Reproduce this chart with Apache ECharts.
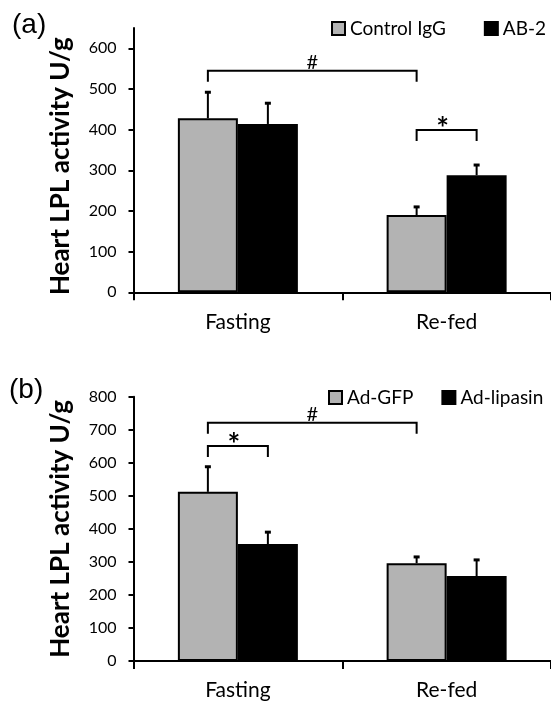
<!DOCTYPE html>
<html>
<head>
<meta charset="utf-8">
<script src="https://cdn.jsdelivr.net/npm/echarts@6/dist/echarts.min.js"></script>
<style>
html,body{margin:0;padding:0;background:#fff;}
#chart{width:551px;height:704px;}
</style>
</head>
<body>
<div id="chart"></div>
<script>
// ---- data ----
const categories = ['Fasting', 'Re-fed'];
// panel (a)
const controlIgG = [428, 190];
const controlIgGErr = [64, 20];
const ab2 = [414, 288];
const ab2Err = [51, 25];
const yTicksA = [0, 100, 200, 300, 400, 500, 600];
// brackets (a): [fromCategory, fromBar, toCategory, toBar, yValue]
const bracketsA = [[0, 0, 1, 0, 545], [1, 0, 1, 1, 399]];
const bracketMarksA = ['#', '*'];
// panel (b)
const adGFP = [512, 296];
const adGFPErr = [76, 19];
const adLipasin = [354, 257];
const adLipasinErr = [36, 49];
const yTicksB = [0, 100, 200, 300, 400, 500, 600, 700, 800];
const bracketsB = [[0, 0, 1, 0, 721], [0, 0, 0, 1, 651]];
const bracketMarksB = ['#', '*'];

// ---- style ----
const BAR_W = 60;
const GRAY = '#b3b3b3';
const FONT = 'Lato';

function errData(vals, errs, bar) {
  return categories.map((c, i) => [i, vals[i], errs[i], bar]);
}

function errRender(params, api) {
  const cat = api.value(0), val = api.value(1), err = api.value(2), bar = api.value(3);
  const base = api.coord([cat, val]);
  const top = api.coord([cat, val + err]);
  const x = base[0] + (bar - 0.5) * BAR_W;
  return {
    type: 'group',
    children: [
      {type: 'line', shape: {x1: x, y1: base[1], x2: x, y2: top[1]}, style: {stroke: '#000', lineWidth: 2}},
      {type: 'line', shape: {x1: x - 3, y1: top[1], x2: x + 3, y2: top[1]}, style: {stroke: '#000', lineWidth: 3}}
    ]
  };
}

function bracketRender(marks) {
  return function (params, api) {
    const fc = api.value(0), fb = api.value(1), tc = api.value(2), tb = api.value(3), y = api.value(4);
    const p1 = api.coord([fc, y]);
    const p2 = api.coord([tc, y]);
    const x1 = p1[0] + (fb - 0.5) * BAR_W;
    const x2 = p2[0] + (tb - 0.5) * BAR_W;
    const yp = p1[1];
    const drop = 11;
    const mark = marks[params.dataIndex];
    const star = mark === '*';
    return {
      type: 'group',
      children: [
        {type: 'polyline', shape: {points: [[x1, yp + drop], [x1, yp], [x2, yp], [x2, yp + drop]]},
         style: {stroke: '#000', lineWidth: 2, fill: null}},
        {type: 'text', x: (x1 + x2) / 2 - (star ? 4 : 0), y: star ? yp + 14 : yp + 2,
         style: {text: mark, fill: '#000', align: 'center', verticalAlign: 'bottom',
                 font: star ? 'bold 30px Lato' : '20px Lato'}}
      ]
    };
  };
}

function xAxisCfg(gi) {
  return {
    type: 'category', gridIndex: gi, data: categories,
    axisLine: {lineStyle: {color: '#000', width: 2}},
    axisTick: {show: true, length: 8, lineStyle: {color: '#000', width: 2}},
    axisLabel: {color: '#000', fontFamily: FONT, fontSize: 21, margin: 19}
  };
}
function yAxisCfg(gi, max, ticks) {
  return {
    type: 'value', gridIndex: gi, min: 0, max: max, interval: 100,
    axisLine: {show: true, lineStyle: {color: '#000', width: 2}},
    axisTick: {show: true, length: 5, lineStyle: {color: '#000', width: 2}, customValues: ticks},
    axisLabel: {color: '#000', fontFamily: FONT, fontSize: 16, margin: 17, customValues: ticks},
    splitLine: {show: false},
    name: 'Heart LPL activity U/g', nameLocation: 'middle', nameRotate: 90, nameGap: 60,
    nameTextStyle: {color: '#000', fontFamily: FONT, fontWeight: 'bold', fontSize: 26,
                    padding: gi === 0 ? [0, 12, 0, 0] : 0}
  };
}
function barSeries(name, data, color, ai) {
  return {
    type: 'bar', name: name, xAxisIndex: ai, yAxisIndex: ai, data: data,
    barWidth: BAR_W, barGap: '0%',
    itemStyle: {color: color, borderColor: '#000', borderWidth: 2},
    emphasis: {disabled: true}
  };
}
function errSeries(data, ai) {
  return {type: 'custom', xAxisIndex: ai, yAxisIndex: ai, data: data, renderItem: errRender,
          encode: {x: 0, y: 1}, z: 3, clip: false, silent: true};
}
function bracketSeries(data, marks, ai) {
  return {type: 'custom', xAxisIndex: ai, yAxisIndex: ai, data: data, renderItem: bracketRender(marks),
          encode: {x: 0, y: 4}, z: 4, clip: false, silent: true};
}
function legendCfg(names, left, top, gap) {
  return {
    data: names, left: left, top: top, width: 260, orient: 'horizontal', padding: 0, itemGap: gap,
    itemWidth: 13, itemHeight: 13, icon: 'rect',
    textStyle: {color: '#000', fontFamily: FONT, fontSize: 19}
  };
}

const chart = echarts.init(document.getElementById('chart'), null, {renderer: 'canvas'});
chart.setOption({
  animation: false,
  backgroundColor: '#fff',
  graphic: [
    {type: 'text', left: 12, top: 11, style: {text: '(a)', font: '28px "Liberation Sans"', fill: '#000'}},
    {type: 'text', left: 9, top: 376, style: {text: '(b)', font: '28px "Liberation Sans"', fill: '#000'}}
  ],
  legend: [
    legendCfg(['Control IgG', 'AB-2'], 331, 19, 38),
    legendCfg(['Ad-GFP', 'Ad-lipasin'], 328, 388, 28)
  ],
  grid: [
    {left: 133.5, top: 28, width: 420, height: 264.3},
    {left: 133.5, top: 396.7, width: 420, height: 264.3}
  ],
  xAxis: [xAxisCfg(0), xAxisCfg(1)],
  yAxis: [yAxisCfg(0, 650, yTicksA), yAxisCfg(1, 800, yTicksB)],
  series: [
    barSeries('Control IgG', controlIgG, GRAY, 0),
    barSeries('AB-2', ab2, '#000', 0),
    errSeries(errData(controlIgG, controlIgGErr, 0).concat(errData(ab2, ab2Err, 1)), 0),
    bracketSeries(bracketsA, bracketMarksA, 0),
    barSeries('Ad-GFP', adGFP, GRAY, 1),
    barSeries('Ad-lipasin', adLipasin, '#000', 1),
    errSeries(errData(adGFP, adGFPErr, 0).concat(errData(adLipasin, adLipasinErr, 1)), 1),
    bracketSeries(bracketsB, bracketMarksB, 1)
  ]
});
</script>
</body>
</html>
